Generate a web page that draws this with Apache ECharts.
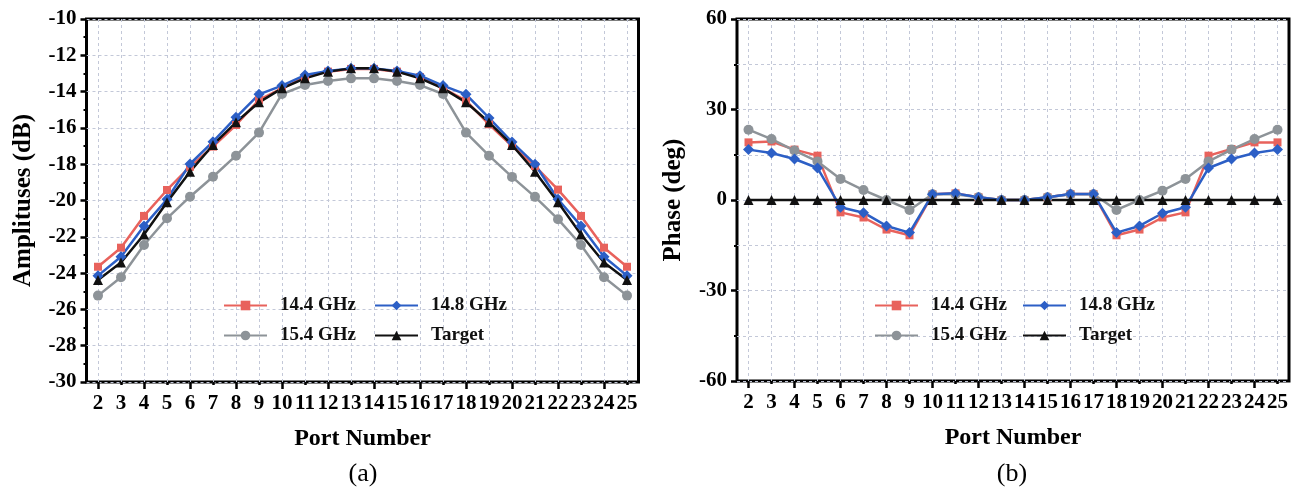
<!DOCTYPE html>
<html>
<head>
<meta charset="utf-8">
<script src="https://cdn.jsdelivr.net/npm/echarts@6/dist/echarts.min.js"></script>
<style>html,body{margin:0;padding:0;background:#fff;}#c{width:1304px;height:489px;}</style>
</head>
<body>
<div id="c"></div>
<script>
var ports = ['2','3','4','5','6','7','8','9','10','11','12','13','14','15','16','17','18','19','20','21','22','23','24','25'];
var amp144 = [-23.65,-22.6,-20.85,-19.42,-18.14,-17.03,-15.84,-14.46,-13.82,-13.2,-12.9,-12.75,-12.75,-12.9,-13.2,-13.82,-14.5,-15.8,-17.0,-18.1,-19.4,-20.85,-22.6,-23.65];
var amp148 = [-24.14,-23.1,-21.4,-19.93,-17.99,-16.76,-15.42,-14.15,-13.67,-13.09,-12.87,-12.72,-12.72,-12.87,-13.12,-13.67,-14.15,-15.45,-16.78,-18.0,-19.93,-21.4,-23.1,-24.14];
var amp154 = [-25.24,-24.23,-22.45,-20.98,-19.79,-18.69,-17.53,-16.26,-14.13,-13.64,-13.42,-13.27,-13.27,-13.42,-13.64,-14.13,-16.26,-17.53,-18.7,-19.8,-21.03,-22.45,-24.23,-25.24];
var ampTarget = [-24.38,-23.42,-21.87,-20.1,-18.41,-16.94,-15.69,-14.59,-13.82,-13.27,-12.9,-12.72,-12.72,-12.9,-13.27,-13.82,-14.59,-15.69,-16.94,-18.41,-20.1,-21.87,-23.42,-24.38];
var ph144 = [19.1,19.4,16.7,14.7,-4.1,-5.8,-9.8,-11.7,1.9,2.2,0.9,0,0,0.9,2.0,2.0,-11.7,-9.8,-5.8,-4.1,14.7,16.9,19.1,19.1];
var ph148 = [16.7,15.6,13.6,10.6,-2.4,-4.2,-8.6,-10.8,1.9,2.2,0.9,0,0,0.9,2.0,2.0,-10.8,-8.6,-4.4,-2.4,10.6,13.6,15.6,16.7];
var ph154 = [23.3,20.2,16.4,12.8,7.0,3.3,0,-3.3,1.9,1.9,0.9,0,0,0.9,1.9,1.9,-3.3,0,3.1,7.0,12.8,16.7,20.2,23.3];
var phTarget = [0,0,0,0,0,0,0,0,0,0,0,0,0,0,0,0,0,0,0,0,0,0,0,0];
var ampTicks = {min:-30, max:-10, interval:2};
var phTicks = {min:-60, max:60, interval:30};

var FONT = 'Liberation Serif';
var C_RED = '#E8625C', C_BLUE = '#2C5FC6', C_GRAY = '#8D9398', C_BLACK = '#111111';
var gridLine = {color:'#c3c8d8', type:[3,3], width:1};

function xAxes(gi, off){
  return [{
    type:'category', gridIndex:gi, data:ports, boundaryGap:true, position:'bottom',
    axisLine:{show:false, onZero:false},
    axisTick:{show:true, alignWithLabel:true, length:3, lineStyle:{color:'#000', width:2.5}},
    axisLabel:{interval:0, margin:11, color:'#000', fontFamily:FONT, fontWeight:'bold', fontSize:21},
    splitLine:{show:true, alignWithLabel:true, lineStyle:gridLine},
    name:'Port Number', nameLocation:'middle', nameGap:45,
    nameTextStyle:{color:'#000', fontFamily:FONT, fontWeight:'bold', fontSize:24}
  },{
    type:'category', gridIndex:gi, data:ports, boundaryGap:true, position:'top', offset:off,
    axisLine:{show:false, onZero:false},
    axisTick:{show:true, inside:true, alignWithLabel:true, interval:1, length:7, lineStyle:{color:'#000', width:2.5}},
    axisLabel:{show:false}, splitLine:{show:false}
  }];
}
function yAxis(gi, t, name){
  return {
    type:'value', gridIndex:gi, min:t.min, max:t.max, interval:t.interval,
    axisLine:{show:false},
    axisTick:{show:true, length:6, lineStyle:{color:'#000', width:2.5}},
    minorTick:{show:true, splitNumber:2, length:3, lineStyle:{color:'#000', width:2}},
    axisLabel:{margin:10, color:'#000', fontFamily:FONT, fontWeight:'bold', fontSize:21},
    splitLine:{show:true, lineStyle:gridLine},
    minorSplitLine:{show: gi===1, lineStyle:gridLine},
    name:name, nameLocation:'middle', nameGap: gi===0 ? 50 : 51,
    nameTextStyle:{color:'#000', fontFamily:FONT, fontWeight:'bold', fontSize:25}
  };
}
function ser(name, data, gi, color, symbol, size){
  return {name:name, type:'line', xAxisIndex:gi*2, yAxisIndex:gi, data:data,
    symbol:symbol, symbolSize:size, showSymbol:true,
    lineStyle:{color:color, width:2.5}, itemStyle:{color:color}};
}
function leg(name, left, top){
  return {data:[name], left:left, top:top, orient:'horizontal', padding:0, itemGap:0,
    itemWidth:43, itemHeight:12,
    textStyle:{color:'#111', fontFamily:FONT, fontWeight:'bold', fontSize:19, padding:[0,0,0,8]}};
}

var chart = echarts.init(document.getElementById('c'), null, {renderer:'canvas'});
chart.setOption({
  backgroundColor:'#fff',
  animation:false,
  grid:[
    {left:86.5, top:19, width:552, height:363, show:true, borderColor:'#000', borderWidth:3, containLabel:false},
    {left:737, top:19, width:552, height:362, show:true, borderColor:'#000', borderWidth:3, containLabel:false}
  ],
  xAxis: xAxes(0, -363).concat(xAxes(1, -362)),
  yAxis:[yAxis(0, ampTicks, 'Amplituses (dB)'), yAxis(1, phTicks, 'Phase (deg)')],
  legend:[
    leg('14.4 GHz', 223, 296), leg('14.8 GHz', 374, 296), leg('15.4 GHz', 223, 326), leg('Target', 374, 326),
    leg('14.4 GHz', 874, 296), leg('14.8 GHz', 1022, 296), leg('15.4 GHz', 874, 326), leg('Target', 1022, 326)
  ],
  graphic:[
    {type:'text', x:363, y:474, style:{text:'(a)', font:'26px "Liberation Serif"', fill:'#000', textAlign:'center', textVerticalAlign:'middle'}},
    {type:'text', x:1012, y:474, style:{text:'(b)', font:'26px "Liberation Serif"', fill:'#000', textAlign:'center', textVerticalAlign:'middle'}}
  ],
  series:[
    ser('14.4 GHz', amp144, 0, C_RED, 'rect', 8),
    ser('15.4 GHz', amp154, 0, C_GRAY, 'circle', 10),
    ser('14.8 GHz', amp148, 0, C_BLUE, 'diamond', 11),
    ser('Target', ampTarget, 0, C_BLACK, 'triangle', 10),
    ser('14.4 GHz', ph144, 1, C_RED, 'rect', 8),
    ser('15.4 GHz', ph154, 1, C_GRAY, 'circle', 10),
    ser('14.8 GHz', ph148, 1, C_BLUE, 'diamond', 11),
    ser('Target', phTarget, 1, C_BLACK, 'triangle', 10)
  ]
});
</script>
</body>
</html>
